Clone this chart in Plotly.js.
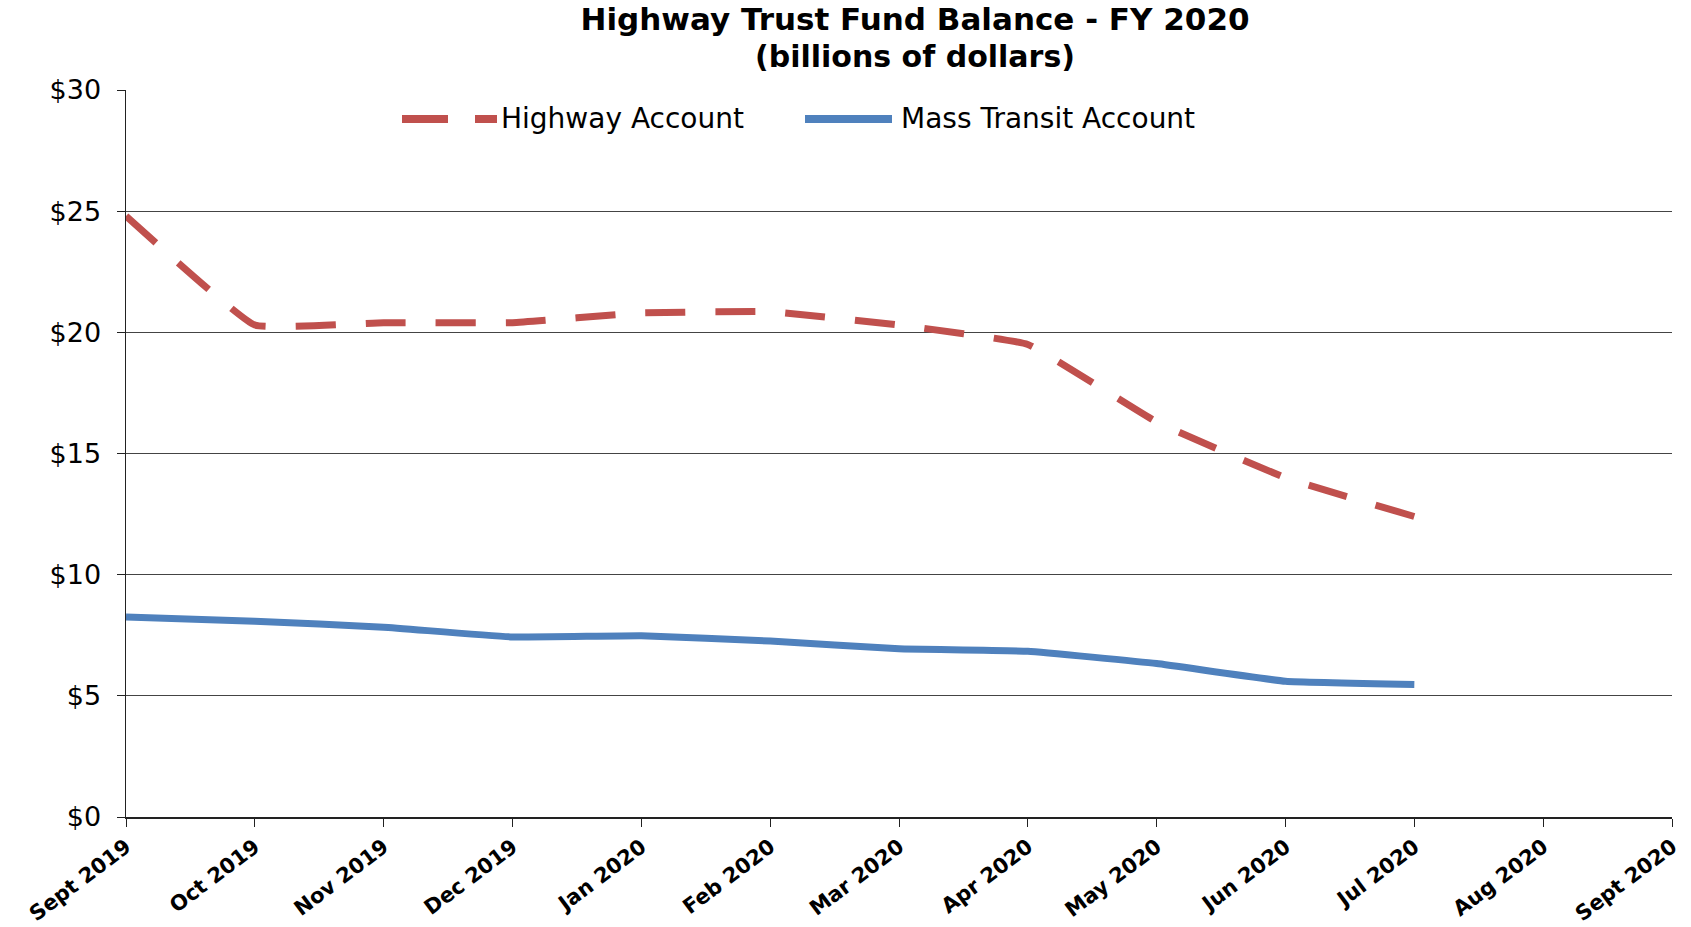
<!DOCTYPE html>
<html>
<head>
<meta charset="utf-8">
<script src="https://cdn.plot.ly/plotly-3.0.1.min.js"></script>
<style>html,body{margin:0;padding:0;background:#fff;}#chart{width:1691px;height:927px;}</style>
</head>
<body>
<div id="chart"></div>
<script>
const monthLabels = ["Sept 2019","Oct 2019","Nov 2019","Dec 2019","Jan 2020","Feb 2020","Mar 2020","Apr 2020","May 2020","Jun 2020","Jul 2020","Aug 2020","Sept 2020"];
const highwayAccount = [24.8, 20.3, 20.4, 20.4, 20.8, 20.85, 20.3, 19.5, 16.3, 14.0, 12.4];
const massTransitAccount = [8.25, 8.08, 7.83, 7.43, 7.48, 7.26, 6.94, 6.84, 6.33, 5.6, 5.47];
const yTickVals = [0, 5, 10, 15, 20, 25, 30];
const yTickText = ["$0", "$5", "$10", "$15", "$20", "$25", "$30"];
const seriesNames = ["Highway Account", "Mass Transit Account"];
const seriesColors = ["#C0504D", "#4F81BD"];

const idx = monthLabels.map((_, i) => i);
const font = "DejaVu Sans, Arial, sans-serif";

const W = 1691, H = 927;
const M = {l: 126, r: 19, t: 90, b: 110};
const pw = W - M.l - M.r, ph = H - M.t - M.b;
const px = v => (v - M.l) / pw;            // pixel x -> paper x
const py = v => 1 - (v - M.t) / ph;        // pixel y -> paper y

const traces = [
  {
    x: idx.slice(0, highwayAccount.length), y: highwayAccount,
    name: seriesNames[0], mode: "lines", type: "scatter",
    line: {color: seriesColors[0], width: 7, dash: "40px,30px", shape: "spline", smoothing: 0.3}
  },
  {
    x: idx.slice(0, massTransitAccount.length), y: massTransitAccount,
    name: seriesNames[1], mode: "lines", type: "scatter",
    line: {color: seriesColors[1], width: 7, shape: "spline", smoothing: 0.3}
  }
];

const legendY = py(119);
const shapes = [
  {type: "line", xref: "paper", yref: "paper", x0: px(402), x1: px(497), y0: legendY, y1: legendY,
   line: {color: seriesColors[0], width: 8, dash: "46px,27px"}},
  {type: "line", xref: "paper", yref: "paper", x0: px(805), x1: px(892), y0: legendY, y1: legendY,
   line: {color: seriesColors[1], width: 8}}
];
const annotations = [
  {text: seriesNames[0], xref: "paper", yref: "paper", x: px(499), y: legendY, xanchor: "left", yanchor: "middle",
   showarrow: false, font: {family: font, size: 28, color: "#000"}},
  {text: seriesNames[1], xref: "paper", yref: "paper", x: px(899), y: legendY, xanchor: "left", yanchor: "middle",
   showarrow: false, font: {family: font, size: 28, color: "#000"}},
  {text: "<b>(billions of dollars)</b>", xref: "paper", yref: "paper", x: px(915), y: py(56), xanchor: "center", yanchor: "middle",
   showarrow: false, borderpad: 0, font: {family: font, size: 30, color: "#000"}}
];

const layout = {
  width: W, height: H,
  paper_bgcolor: "#fff", plot_bgcolor: "#fff",
  margin: M,
  title: {
    text: "<b>Highway Trust Fund Balance - FY 2020</b>",
    font: {family: font, size: 31, color: "#000"},
    x: 915 / W, xanchor: "center", y: 1 - 19 / H, yanchor: "middle"
  },
  showlegend: false,
  shapes: shapes,
  annotations: annotations,
  xaxis: {
    range: [0, 12], tickvals: idx, ticktext: monthLabels.map(s => "<b>" + s + "</b>"),
    tickangle: -37, tickfont: {family: font, size: 21, color: "#000"},
    showgrid: false, zeroline: false, showline: true, linecolor: "#222", linewidth: 1.5,
    ticks: "outside", ticklen: 8, tickcolor: "#222", fixedrange: true
  },
  yaxis: {
    range: [0, 30], tickvals: yTickVals, ticktext: yTickText,
    tickfont: {family: font, size: 27, color: "#000"},
    showgrid: true, gridcolor: "#444", gridwidth: 1.2,
    zeroline: false, showline: true, linecolor: "#222", linewidth: 1.5,
    ticks: "outside", ticklen: 8, tickcolor: "#222", ticklabelstandoff: 10, fixedrange: true
  }
};

Plotly.newPlot("chart", traces, layout, {displayModeBar: false, staticPlot: true});
</script>
</body>
</html>
